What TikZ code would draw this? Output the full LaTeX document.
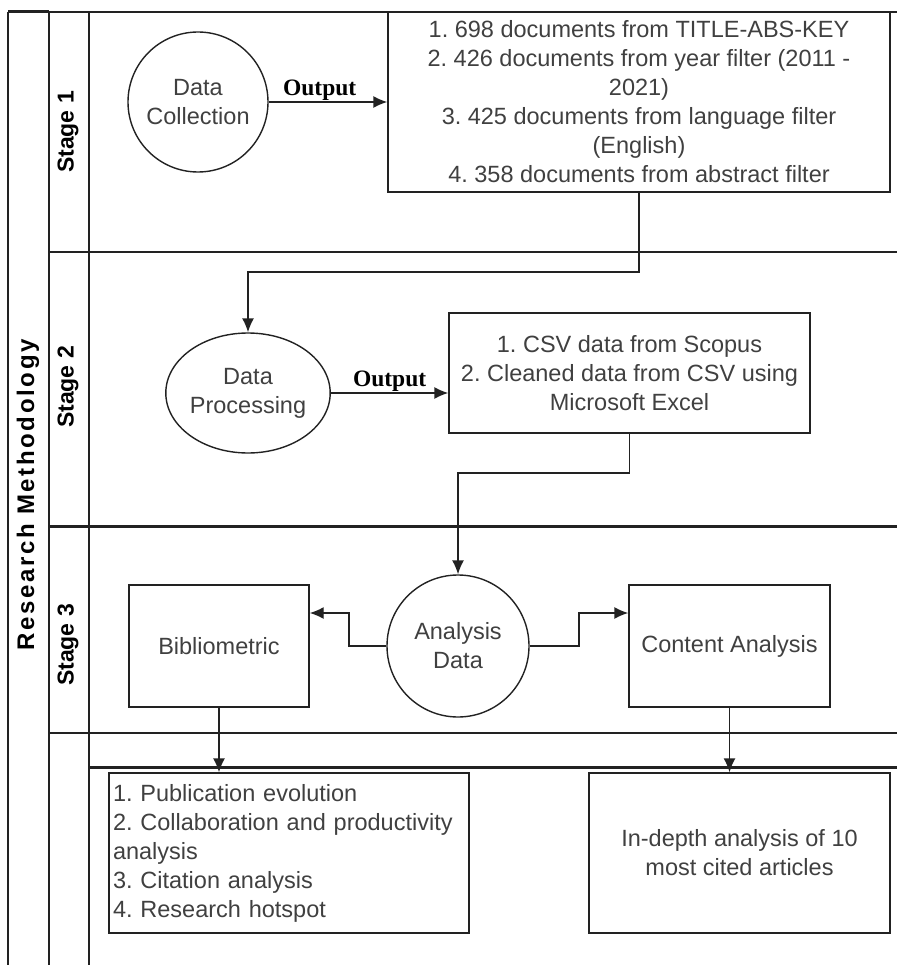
\documentclass[tikz,border=0pt]{standalone}
\usepackage{fontspec}
\setmainfont{Liberation Sans}
\newfontfamily\spacedsans{Liberation Sans}[LetterSpace=11]
\newfontfamily\serifbold{Liberation Serif}
\usetikzlibrary{arrows.meta,shapes.geometric}
\definecolor{lc}{RGB}{34,34,34}
\definecolor{tc}{RGB}{64,64,64}
\frenchspacing
\newcommand\mytxt{\frenchspacing\fontsize{23.5}{29}\selectfont}
\newcommand\stagefnt{\fontsize{23}{28}\selectfont\bfseries}
\newcommand\outfnt{\serifbold\bfseries\fontsize{23.5}{23.5}\selectfont}
\tikzset{
  ln/.style={draw=lc, line width=1.4pt},
  thickln/.style={draw=lc, line width=3pt},
  box/.style={ln, rectangle, inner sep=0pt, align=center, font=\mytxt, text=tc},
  circ/.style={ln, circle, inner sep=0pt, minimum size=#1, align=center, font=\mytxt, text=tc},
  arr/.style={draw=lc, line width=1.4pt, -{Latex[length=14pt,width=12pt]}},
  olabel/.style={font=\outfnt, text=black, inner sep=1pt},
  stagelbl/.style={rotate=90, font=\stagefnt, text=black, inner sep=0pt}
}
\begin{document}
\begin{tikzpicture}[x=1pt,y=-1pt]
\useasboundingbox (0,0) rectangle (897,965);
% swimlane frame
\draw[ln] (8,12) -- (897,12);
\draw[thickln] (8,12) -- (49,12);
\draw[ln] (8,12) -- (8,965);
\draw[ln] (49,12) -- (49,965);
\draw[ln] (89,12) -- (89,965);
\draw[ln] (49,252) -- (897,252);
\draw[thickln] (49,526) -- (897,526);
\draw[ln] (49,733) -- (897,733);
\draw[thickln] (89,767) -- (897,767);
% lane labels
\node[rotate=90, font=\spacedsans\bfseries\fontsize{24}{28}\selectfont, inner sep=0pt] (rm) at (28,495) {Research Methodology};
\node[stagelbl] (s1) at (68,132) {Stage 1};
\node[stagelbl] (s2) at (68,387) {Stage 2};
\node[stagelbl] (s3) at (68,645) {Stage 3};
% stage 1
\node[circ=140pt] (dc) at (198,102) {Data\\Collection};
\node[box, minimum width=502pt, minimum height=180pt] (b1) at (639,102)
  {1. 698 documents from TITLE-ABS-KEY\\2. 426 documents from year filter (2011 -\\2021)\\3. 425 documents from language filter\\(English)\\4. 358 documents from abstract filter};
\draw[arr] (dc.east) -- node[olabel, pos=0.43, above] (o1) {Output} (b1.west);
% stage 2
\node[ellipse, ln, inner sep=0pt, minimum width=162pt, minimum height=120pt, align=center, font=\mytxt, text=tc] (dp) at (248,393) {Data\\Processing};
\node[box, minimum width=361pt, minimum height=120pt] (b2) at (629.5,373)
  {1. CSV data from Scopus\\2. Cleaned data from CSV using\\Microsoft Excel};
\coordinate (k1) at (248,272);
\draw[arr] (b1.south) |- (k1) -- (dp.north);
\draw[arr] (dp.east) -- node[olabel, pos=0.5, above] (o2) {Output} (dp.east -| b2.west);
% stage 3
\node[circ=142pt] (ad) at (458,646) {Analysis\\Data};
\node[box, minimum width=180pt, minimum height=122pt] (bib) at (219,646) {Bibliometric};
\node[box, minimum width=201pt, minimum height=122pt] (ca) at (729.5,646) {Content Analysis};
\coordinate (k2) at (458,473);
\draw[arr] (b2.south) |- (k2) -- (ad.north);
\coordinate (kl) at (349,646);
\coordinate (kr) at (579,646);
\draw[arr] (ad.west) -- (kl) |- (bib.east |- 0,613);
\draw[arr] (ad.east) -- (kr) |- (ca.west |- 0,613);
\draw[draw=lc, line width=2.8pt] (ad.west) -- (kl);
\draw[draw=lc, line width=2.8pt] (ad.east) -- (kr);
% results
\node[box, minimum height=160pt, text width=352pt, inner xsep=4pt, align=left] (r1) at (289,853)
  {1. Publication evolution\\2. Collaboration and productivity\\analysis\\3. Citation analysis\\4. Research hotspot};
\node[box, minimum width=301pt, minimum height=160pt] (r2) at (739.5,853)
  {In-depth analysis of 10\\most cited articles};
\draw[arr] (bib.south) -- (bib.south |- r1.north);
\draw[arr] (ca.south) -- (ca.south |- r2.north);
\end{tikzpicture}
\end{document}
